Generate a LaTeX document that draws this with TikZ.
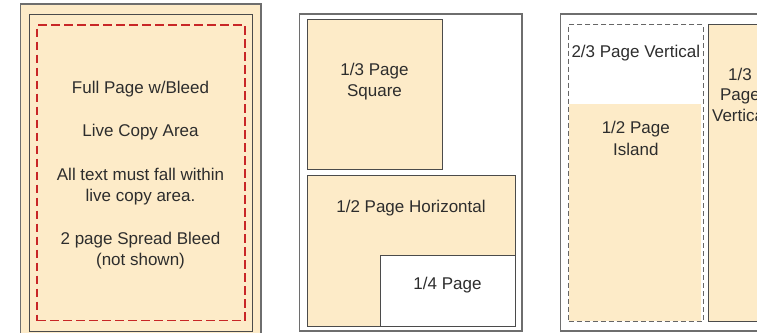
\documentclass[tikz,border=0pt]{standalone}
\usepackage{fontspec}
\setmainfont{Liberation Sans}
\definecolor{cream}{RGB}{253,235,200}
\definecolor{bleedred}{RGB}{200,38,38}
\definecolor{edge}{RGB}{75,75,75}
\definecolor{pageedge}{RGB}{110,110,110}
\definecolor{txt}{RGB}{45,45,45}
\begin{document}
\begin{tikzpicture}[x=1pt,y=-1pt,
  box/.style={rectangle, anchor=north west, inner sep=0pt, outer sep=0pt, draw=edge, line width=1pt},
  pagebox/.style={box, draw=pageedge, line width=1.3pt},
  adbox/.style={box, fill=cream, draw=edge, line width=0.9pt},
  bleedline/.style={box, draw=bleedred, line width=1.8pt, dash pattern=on 8.5pt off 4.5pt},
  islandline/.style={box, draw=edge!85, line width=0.9pt, dash pattern=on 5pt off 3pt},
  lbl/.style={anchor=base, inner sep=0pt, text=txt, font=\fontsize{17}{20}\selectfont}]
\useasboundingbox (0,0) rectangle (757,332);

% ---------- Panel 1: full page with bleed ----------
\node[pagebox, fill=cream, minimum width=240.3pt, minimum height=335pt] (fullpage) at (20.7,4) {};
\node[box, minimum width=223pt, minimum height=317pt] (trim) at (29,14) {};
\node[bleedline, minimum width=208pt, minimum height=295.5pt] (livearea) at (37,25) {};
\node[lbl] (t1) at (140.5,93.3) {Full Page w/Bleed};
\node[lbl] (t2) at (140.5,136.7) {Live Copy Area};
\node[lbl] (t3) at (140.5,180) {All text must fall within};
\node[lbl] (t4) at (140.5,201.7) {live copy area.};
\node[lbl] (t5) at (140.5,244.3) {2 page Spread Bleed};
\node[lbl] (t6) at (140.5,265.5) {(not shown)};

% ---------- Panel 2 ----------
\node[pagebox, minimum width=222.7pt, minimum height=317pt] (page2) at (299.3,14) {};
\node[adbox, minimum width=135pt, minimum height=150pt] (square) at (307,19) {};
\node[adbox, minimum width=208pt, minimum height=150.3pt] (horiz) at (307,175.7) {};
\node[adbox, fill=white, minimum width=135pt, minimum height=71pt] (quarter) at (380,255) {};
\node[lbl] (s1) at (374.5,75) {1/3 Page};
\node[lbl] (s2) at (374.5,96.7) {Square};
\node[lbl] (h1) at (411,212.7) {1/2 Page Horizontal};
\node[lbl] (q1) at (447.5,289.3) {1/4 Page};

% ---------- Panel 3 ----------
\node[pagebox, minimum width=220pt, minimum height=317pt] (page3) at (560.7,14) {};
\node[rectangle, anchor=north west, inner sep=0pt, outer sep=0pt, fill=cream, minimum width=131.5pt, minimum height=217pt] (island) at (569,104.3) {};
\node[box, draw=white, line width=0.9pt, minimum width=134.3pt, minimum height=297pt] (vert23bg) at (568.7,24.3) {};
\node[islandline, minimum width=134.3pt, minimum height=297pt] (vert23) at (568.7,24.3) {};
\node[adbox, minimum width=63pt, minimum height=297pt] (vert13) at (708.7,24.3) {};
\node[lbl] (v1) at (635.8,57.3) {2/3 Page Vertical};
\node[lbl] (i1) at (635.8,133.3) {1/2 Page};
\node[lbl] (i2) at (635.8,155) {Island};
\node[lbl] (w1) at (740,80) {1/3};
\node[lbl] (w2) at (740,100.7) {Page};
\node[lbl] (w3) at (740,121.7) {Vertical};
\end{tikzpicture}
\end{document}
